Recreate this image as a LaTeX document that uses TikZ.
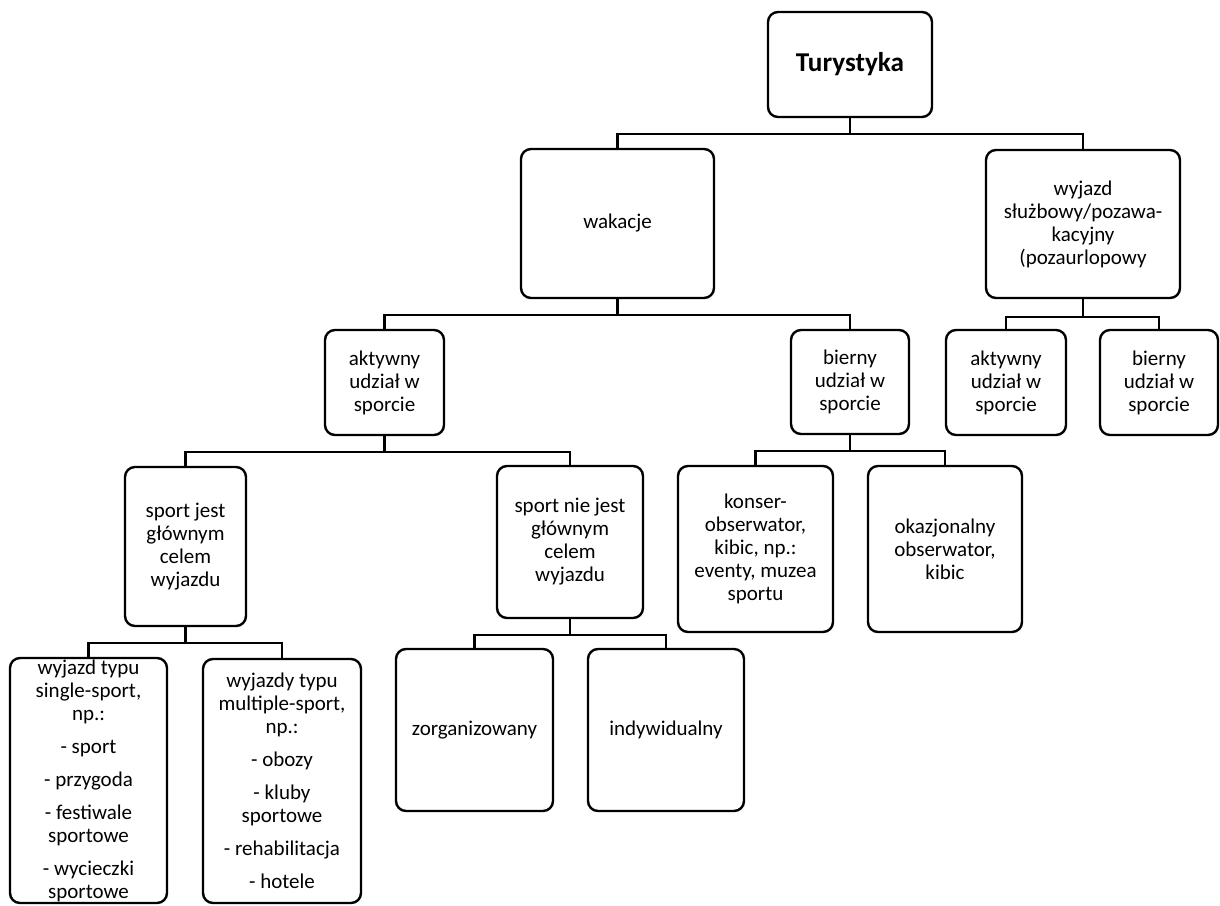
\documentclass[tikz,border=0pt]{standalone}
\usepackage{fontspec}
\setmainfont{Carlito}

\begin{document}
\begin{tikzpicture}[x=0.5pt,y=-0.5pt,line width=1.2pt]
            \tikzstyle{every node} = [draw=black,rounded corners=5pt,align=center,inner sep=0pt,font=\fontsize{10.5}{11.5}\selectfont];
            \tikzstyle{link} = [line width=1.2pt];
            \useasboundingbox (0,0) rectangle (1220,905);
            \node[minimum width=82pt,minimum height=52.5pt,font=\fontsize{13.6}{15}\selectfont\bfseries] (tur) at (850,64.5) {Turystyka};
            \node[minimum width=96.5pt,minimum height=74.5pt] (wak) at (617.5,223.5) {wakacje};
            \node[minimum width=97pt,minimum height=74pt] (wyj) at (1083,224) {wyjazd\\służbowy/pozawa-\\kacyjny\\(pozaurlopowy};
            \node[minimum width=59.5pt,minimum height=52.5pt] (akt) at (384.5,382.5) {aktywny\\udział w\\sporcie};
            \node[minimum width=59pt,minimum height=52pt] (bier) at (850,382) {bierny\\udział w\\sporcie};
            \node[minimum width=60pt,minimum height=52.5pt] (akt2) at (1006,382.5) {aktywny\\udział w\\sporcie};
            \node[minimum width=59pt,minimum height=52.5pt] (bier2) at (1159,382.5) {bierny\\udział w\\sporcie};
            \node[minimum width=60.5pt,minimum height=79.5pt] (sj) at (185.5,546.5) {sport jest\\głównym\\celem\\wyjazdu};
            \node[minimum width=73pt,minimum height=76pt] (snj) at (570,542) {sport nie jest\\głównym\\celem\\wyjazdu};
            \node[minimum width=77.5pt,minimum height=83pt] (kons) at (755.5,549) {konser-\\obserwator,\\kibic, np.:\\eventy, muzea\\sportu};
            \node[minimum width=77pt,minimum height=83pt] (okaz) at (945,549) {okazjonalny\\obserwator,\\kibic};
            \node[minimum width=78.5pt,minimum height=122.5pt] (sing) at (88.5,780.5) {wyjazd typu\\single-sport,\\np.:\\[5pt]- sport\\[5pt]- przygoda\\[5pt]- festiwale\\sportowe\\[5pt]- wycieczki\\sportowe};
            \node[minimum width=79pt,minimum height=122pt] (mult) at (282,781) {wyjazdy typu\\multiple-sport,\\np.:\\[5pt]- obozy\\[5pt]- kluby\\sportowe\\[5pt]- rehabilitacja\\[5pt]- hotele};
            \node[minimum width=78.5pt,minimum height=81pt] (zorg) at (474.5,730) {zorganizowany};
            \node[minimum width=78pt,minimum height=81pt] (indy) at (666,730) {indywidualny};
            \draw[link] (tur.south) -- ++(0,16) -| (wak.north);
            \draw[link] (tur.south) -- ++(0,16) -| (wyj.north);
            \draw[link] (wak.south) -- ++(0,16) -| (akt.north);
            \draw[link] (wak.south) -- ++(0,16) -| (bier.north);
            \draw[link] (wyj.south) -- ++(0,18) -| (akt2.north);
            \draw[link] (wyj.south) -- ++(0,18) -| (bier2.north);
            \draw[link] (akt.south) -- ++(0,16) -| (sj.north);
            \draw[link] (akt.south) -- ++(0,16) -| (snj.north);
            \draw[link] (bier.south) -- ++(0,16) -| (kons.north);
            \draw[link] (bier.south) -- ++(0,16) -| (okaz.north);
            \draw[link] (sj.south) -- ++(0,16) -| (sing.north);
            \draw[link] (sj.south) -- ++(0,16) -| (mult.north);
            \draw[link] (snj.south) -- ++(0,16) -| (zorg.north);
            \draw[link] (snj.south) -- ++(0,16) -| (indy.north);
        \end{tikzpicture}
\end{document}
